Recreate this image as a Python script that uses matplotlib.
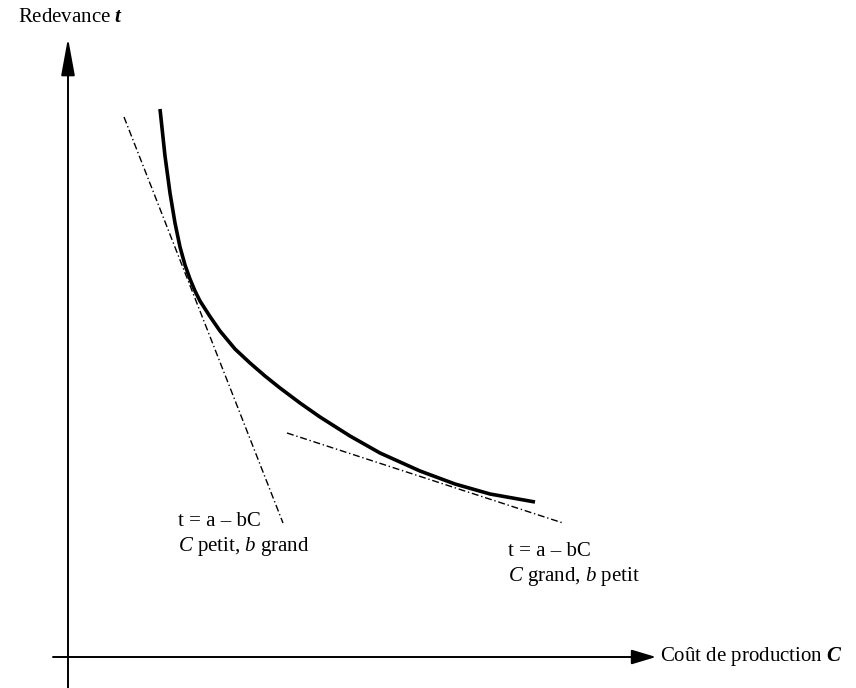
"""
Redevance t en fonction du coût de production C, avec deux tangentes.
Les coordonnées sont lues sur l'image (unités = pixels, y vers le bas).
"""

import matplotlib.pyplot as plt

plt.rcParams["font.family"] = ["Liberation Serif", "DejaVu Serif"]
plt.rcParams["mathtext.fontset"] = "custom"
plt.rcParams["mathtext.rm"] = "Liberation Serif"
plt.rcParams["mathtext.it"] = "Liberation Serif:italic"
plt.rcParams["mathtext.bf"] = "Liberation Serif:bold"
plt.rcParams["mathtext.bfit"] = "Liberation Serif:italic:bold"

# courbe principale
curve_x = [160, 165, 170, 175, 180, 185, 190, 195, 200, 210, 220, 235,
           250, 265, 280, 300, 320, 350, 380, 420, 455, 490, 535]
curve_y = [109, 156, 193, 223, 247, 265, 279, 291, 301, 316.5, 331, 349,
           363, 376, 388, 403, 417, 436, 453, 471, 484, 494, 502]

# tangentes t = a - bC
tan1_x = [124, 283]
tan1_y = [117, 523]
tan2_x = [287, 563]
tan2_y = [433, 523]

y_label = "Redevance $\\mathbfit{t}$"
x_label = "Coût de production $\\mathbfit{C}$"
eq_label = "t = a – bC"
note_small = "$\\mathit{C}$ petit, $\\mathit{b}$ grand"
note_large = "$\\mathit{C}$ grand, $\\mathit{b}$ petit"


def main() -> None:
    fig = plt.figure(figsize=(8.56, 6.88), dpi=100)
    ax = fig.add_axes([0, 0, 1, 1])
    ax.set_xlim(0, 856)
    ax.set_ylim(688, 0)
    ax.axis("off")

    # axes avec flèches
    ax.annotate("", xy=(68, 38), xytext=(68, 700),
                arrowprops=dict(arrowstyle="-|>,head_length=2.3,head_width=0.42",
                                lw=1.4, color="black", mutation_scale=10,
                                shrinkA=0, shrinkB=0))
    ax.annotate("", xy=(656, 657), xytext=(53, 657),
                arrowprops=dict(arrowstyle="-|>,head_length=1.5,head_width=0.45",
                                lw=1.4, color="black", mutation_scale=10,
                                shrinkA=0, shrinkB=0))

    ax.plot(curve_x, curve_y, color="black", lw=2.6,
            solid_capstyle="butt", solid_joinstyle="round")
    ax.plot(tan1_x, tan1_y, color="black", lw=1.0, dashes=(5, 2, 1, 2))
    ax.plot(tan2_x, tan2_y, color="black", lw=1.0, dashes=(5, 2, 1, 2))

    ax.text(18, 18, y_label, fontsize=15, va="center", ha="left")
    ax.text(660, 657, x_label, fontsize=15, va="center", ha="left")

    ax.text(178, 521, eq_label, fontsize=15, va="center", ha="left")
    ax.text(178, 547, note_small, fontsize=15, va="center", ha="left")
    ax.text(508, 551, eq_label, fontsize=15, va="center", ha="left")
    ax.text(508, 577, note_large, fontsize=15, va="center", ha="left")

    fig.savefig("out.png", dpi=100)
    plt.close(fig)


if __name__ == "__main__":
    main()
